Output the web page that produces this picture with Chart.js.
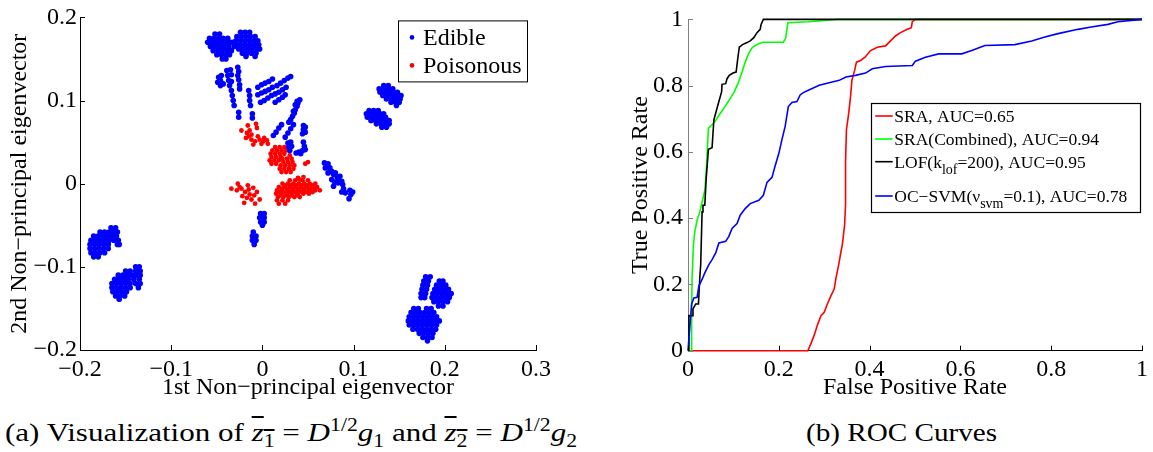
<!DOCTYPE html>
<html><head><meta charset="utf-8">
<script src="https://cdn.jsdelivr.net/npm/chart.js@4.4.1/dist/chart.umd.min.js"></script>
<style>
html,body{margin:0;padding:0;background:#fff;width:1153px;height:452px;overflow:hidden;position:relative;}
#c1{position:absolute;left:0;top:0;}
#c2{position:absolute;left:580px;top:0;}
.cap{position:absolute;left:0;top:0;font-family:"Liberation Serif",serif;font-size:26px;color:#000;white-space:nowrap;line-height:1;transform-origin:0 50%;}
.ov{text-decoration:overline;}
.cap sub,.cap sup{font-size:70%;line-height:0;}
</style></head>
<body>
<canvas id="c1" width="580" height="400"></canvas>
<canvas id="c2" width="573" height="400"></canvas>
<div id="capA" class="cap">(a) Visualization of <span class="ov"><i>z</i><sub>1</sub></span> = <i>D</i><sup>1/2</sup><i>g</i><sub>1</sub> and <span class="ov"><i>z</i><sub>2</sub></span> = <i>D</i><sup>1/2</sup><i>g</i><sub>2</sub></div>
<div id="capB" class="cap">(b) ROC Curves</div>
<script>
// ---------- Left panel data (x = 1st, y = 2nd non-principal eigenvector) ----------
// blob rows: [y, x1, x2, ...]
const edibleTopLeft = [
 [0.180,-0.052,-0.047],
 [0.175,-0.058,-0.053,-0.048,-0.043,-0.038],
 [0.170,-0.060,-0.055,-0.050,-0.045,-0.040,-0.035,-0.032],
 [0.165,-0.057,-0.052,-0.047,-0.042,-0.037,-0.031],
 [0.160,-0.054,-0.049,-0.044,-0.039,-0.034],
 [0.155,-0.050,-0.045,-0.040,-0.036],
 [0.150,-0.044,-0.040]
];
const edibleTopRight = [
 [0.182,-0.024,-0.019,-0.014],
 [0.177,-0.028,-0.023,-0.018,-0.013,-0.008],
 [0.172,-0.029,-0.024,-0.019,-0.014,-0.009,-0.005],
 [0.167,-0.029,-0.024,-0.019,-0.014,-0.009,-0.004],
 [0.162,-0.026,-0.021,-0.016,-0.011,-0.006,-0.003],
 [0.157,-0.022,-0.017,-0.012,-0.007],
 [0.153,-0.018,-0.008]
];
const edibleRightUpper = [
 [0.118,0.133,0.138],
 [0.114,0.128,0.133,0.138,0.143],
 [0.110,0.129,0.134,0.139,0.144,0.148],
 [0.106,0.132,0.137,0.142,0.147,0.152],
 [0.102,0.136,0.141,0.146,0.151],
 [0.098,0.141,0.146,0.150],
 [0.094,0.147]
];
const edibleRightLower = [
 [0.088,0.117,0.122,0.127],
 [0.084,0.114,0.119,0.124,0.129,0.133],
 [0.080,0.115,0.120,0.125,0.130,0.135],
 [0.076,0.119,0.124,0.129,0.134,0.139],
 [0.072,0.125,0.130,0.135,0.139],
 [0.068,0.131,0.136]
];
const edibleLowLeftA = [
 [-0.053,-0.166,-0.161],
 [-0.058,-0.178,-0.173,-0.168,-0.163,-0.159],
 [-0.063,-0.185,-0.180,-0.175,-0.170,-0.165,-0.160],
 [-0.068,-0.188,-0.183,-0.178,-0.173,-0.168,-0.163,-0.158],
 [-0.073,-0.189,-0.184,-0.179,-0.174,-0.169,-0.159,-0.157],
 [-0.078,-0.189,-0.184,-0.179,-0.174,-0.169],
 [-0.083,-0.188,-0.183,-0.178,-0.173],
 [-0.088,-0.185,-0.180]
];
const edibleLowLeftB = [
 [-0.100,-0.139,-0.135],
 [-0.105,-0.150,-0.145,-0.139,-0.134],
 [-0.110,-0.158,-0.153,-0.148,-0.143,-0.138,-0.134],
 [-0.115,-0.162,-0.157,-0.152,-0.147,-0.141,-0.135],
 [-0.120,-0.165,-0.160,-0.155,-0.150,-0.145,-0.139,-0.134],
 [-0.125,-0.165,-0.160,-0.155,-0.150,-0.145,-0.136],
 [-0.130,-0.164,-0.159,-0.154,-0.149],
 [-0.135,-0.161,-0.156,-0.151],
 [-0.139,-0.157]
];
const edibleLowRightUpper = [
 [-0.112,0.179,0.184],
 [-0.117,0.177,0.182,0.194,0.198],
 [-0.122,0.176,0.181,0.191,0.196,0.201],
 [-0.127,0.175,0.180,0.189,0.194,0.199,0.204],
 [-0.132,0.174,0.179,0.187,0.192,0.197,0.202,0.207],
 [-0.137,0.174,0.178,0.186,0.191,0.196,0.201,0.205],
 [-0.142,0.188,0.193,0.198,0.203],
 [-0.147,0.193,0.198]
];
const edibleLowRightLower = [
 [-0.150,0.166,0.171,0.180,0.185],
 [-0.155,0.163,0.168,0.173,0.178,0.183,0.188],
 [-0.160,0.161,0.166,0.171,0.176,0.181,0.186,0.191],
 [-0.165,0.160,0.165,0.170,0.175,0.180,0.185,0.190,0.194],
 [-0.170,0.161,0.166,0.171,0.176,0.181,0.186,0.191],
 [-0.175,0.165,0.170,0.175,0.180,0.185,0.190],
 [-0.180,0.172,0.177,0.182,0.187],
 [-0.185,0.176,0.181,0.186],
 [-0.189,0.181]
];
// single points: [x, y]
const edibleStrands = [
 [-0.045,0.130],[-0.048,0.128],[-0.046,0.124],[-0.049,0.122],[-0.043,0.120],[-0.046,0.118],
 [-0.039,0.136],[-0.035,0.137],[-0.038,0.130],[-0.034,0.131],[-0.037,0.124],[-0.034,0.123],
 [-0.036,0.118],[-0.034,0.112],[-0.033,0.106],[-0.032,0.100],[-0.031,0.094],
 [-0.027,0.140],[-0.026,0.135],[-0.027,0.130],[-0.026,0.125],[-0.025,0.119],[-0.025,0.114],
 [-0.026,0.086],[-0.026,0.080],
 [-0.015,0.112],[-0.014,0.106],[-0.014,0.100],[-0.013,0.094],[-0.011,0.084],[-0.011,0.079]
];
const edibleBars = [
 [-0.005,0.116],[-0.001,0.119],[0.003,0.121],[0.007,0.123],[0.011,0.126],
 [-0.005,0.107],[-0.001,0.109],[0.003,0.111],[0.007,0.113],[0.011,0.116],
 [-0.002,0.098],[0.002,0.100],[0.006,0.103],[0.010,0.106],
 [0.016,0.118],[0.020,0.121],[0.024,0.124],[0.028,0.127],[0.031,0.129],
 [0.014,0.108],[0.018,0.110],[0.022,0.113],[0.026,0.116],
 [0.014,0.098],[0.018,0.101],[0.022,0.104],[0.025,0.107],
 [0.041,0.101],[0.039,0.097],[0.038,0.093],[0.036,0.089],[0.035,0.085],[0.033,0.081],
 [0.031,0.077],[0.029,0.074],[0.038,0.099],[0.036,0.095],[0.034,0.087]
];
const edibleMid = [
 [0.012,0.058],[0.015,0.062],[0.018,0.067],[0.021,0.071],
 [0.025,0.056],[0.028,0.061],[0.031,0.066],[0.034,0.071],
 [0.045,0.070],[0.045,0.065],[0.044,0.060],[0.047,0.068],[0.047,0.062],
 [0.028,0.049],[0.031,0.050],[0.029,0.044],[0.032,0.045],[0.030,0.040],
 [0.045,0.050],[0.046,0.045],[0.044,0.040],[0.040,0.038],[0.037,0.037],[0.047,0.041],[0.042,0.036]
];
const edibleStripes = [
 [0.068,0.025],[0.072,0.024],[0.069,0.019],[0.074,0.019],[0.076,0.015],[0.078,0.011],
 [0.080,0.013],[0.082,0.008],[0.076,0.005],[0.079,0.002],[0.085,0.009],[0.087,0.003],
 [0.083,0.001],[0.078,-0.003],[0.088,-0.001],[0.089,-0.006],[0.087,-0.010],[0.091,-0.011],
 [0.096,-0.008],[0.099,-0.010],[0.097,-0.013],[0.095,-0.018],[0.072,0.013],[0.083,0.004]
];
const edibleBelow = [
 [-0.002,-0.036],[0.002,-0.036],[-0.003,-0.041],[0.002,-0.041],[-0.002,-0.046],[0.002,-0.046],[0.000,-0.050],
 [-0.010,-0.058],[-0.011,-0.063],[-0.007,-0.063],[-0.011,-0.068],[-0.007,-0.068],[-0.009,-0.073]
];
const poisonLobes = [
 [0.044,0.014,0.019,0.024],
 [0.040,0.011,0.016,0.021,0.026],
 [0.036,0.009,0.014,0.019,0.024],
 [0.032,0.010,0.015,0.020],
 [0.028,0.008,0.013,0.018],
 [0.024,0.010,0.015],
 [0.034,0.030],
 [0.030,0.022,0.027,0.032],
 [0.026,0.023,0.028,0.033],
 [0.022,0.020,0.025,0.030,0.035],
 [0.018,0.019,0.024,0.029,0.034],
 [0.014,0.021,0.026,0.031]
];
const poisonBand = [
 [0.004,0.030,0.036,0.044,0.050],
 [0.000,0.022,0.028,0.034,0.040,0.046,0.052,0.058],
 [-0.002,0.025,0.031,0.037,0.043,0.049,0.055],
 [-0.004,0.018,0.024,0.030,0.036,0.042,0.048,0.054,0.060],
 [-0.006,0.021,0.027,0.033,0.039,0.045,0.051,0.057],
 [-0.008,0.016,0.022,0.028,0.034,0.040,0.046,0.052,0.058,0.063],
 [-0.010,0.019,0.025,0.031,0.037,0.043,0.049,0.055],
 [-0.012,0.015,0.021,0.027,0.033,0.039,0.045,0.051],
 [-0.014,0.020,0.026,0.032,0.038],
 [-0.016,0.017,0.023,0.029,0.035,0.041],
 [-0.020,0.016,0.022,0.028],
 [-0.024,0.018,0.025]
];
const poisonScatter = [
 [-0.023,0.064],[-0.016,0.070],[-0.007,0.072],[-0.006,0.067],[-0.017,0.061],[-0.014,0.064],
 [-0.015,0.057],[-0.012,0.053],[-0.010,0.047],[-0.012,0.059],[-0.005,0.057],[-0.003,0.053],
 [0.001,0.051],[-0.001,0.048],[0.005,0.052],[0.006,0.048],[0.002,0.055],[-0.008,0.051],[-0.018,0.055],
 [-0.034,-0.006],[-0.027,0.000],[-0.028,-0.008],[-0.023,-0.006],[-0.019,-0.010],[-0.015,-0.007],
 [-0.022,-0.015],[-0.017,-0.017],[-0.014,-0.013],[-0.012,-0.019],[-0.020,-0.023],[-0.008,-0.024],
 [-0.006,-0.010],[-0.003,-0.019],[-0.010,-0.005],[-0.025,-0.004],[-0.016,-0.002],[-0.009,-0.014],
 [0.047,0.024],[0.050,0.026],[0.045,0.008],[0.041,0.005],[0.039,0.007]
];

// ---------- Right panel data (ROC curves) ----------
const sraFpr = [0,0.264,0.271,0.278,0.286,0.293,0.300,0.307,0.315,0.322,0.326,0.332,0.337,0.340,0.345,0.347,0.347,0.349,0.354,0.358,0.361,0.367,0.371,0.380,0.390,0.402,0.417,0.435,0.446,0.457,0.468,0.483,0.492,0.494,0.501,1];
const sraTpr = [0,0,0.022,0.047,0.081,0.106,0.116,0.141,0.166,0.186,0.220,0.260,0.300,0.320,0.380,0.440,0.570,0.667,0.717,0.767,0.816,0.846,0.871,0.876,0.886,0.906,0.916,0.920,0.935,0.950,0.960,0.970,0.975,0.993,1,1];
const combFpr = [0,0.007,0.008,0.009,0.012,0.015,0.020,0.026,0.031,0.037,0.040,0.045,0.053,0.061,0.069,0.079,0.090,0.101,0.110,0.119,0.126,0.134,0.142,0.154,0.166,0.210,0.215,0.220,0.265,0.329,1];
const combTpr = [0,0,0.121,0.220,0.320,0.359,0.394,0.419,0.449,0.484,0.538,0.672,0.682,0.695,0.712,0.732,0.755,0.779,0.806,0.841,0.871,0.898,0.916,0.926,0.931,0.931,0.943,0.990,0.993,1,1];
const lofFpr = [0,0.002,0.002,0.011,0.011,0.017,0.023,0.026,0.028,0.031,0.033,0.037,0.040,0.045,0.053,0.057,0.062,0.068,0.074,0.075,0.083,0.086,0.091,0.099,0.106,0.110,0.113,0.120,0.130,0.137,0.145,0.152,0.159,0.161,0.166,1];
const lofTpr = [0,0,0.106,0.106,0.126,0.141,0.141,0.220,0.260,0.419,0.439,0.439,0.518,0.608,0.613,0.697,0.722,0.752,0.781,0.804,0.806,0.821,0.831,0.838,0.841,0.886,0.916,0.924,0.930,0.935,0.945,0.960,0.970,0.985,1,1];
const svmFpr = [0,0.004,0.008,0.013,0.020,0.024,0.031,0.037,0.046,0.053,0.061,0.068,0.083,0.090,0.097,0.108,0.115,0.126,0.137,0.156,0.166,0.174,0.185,0.192,0.200,0.207,0.214,0.221,0.229,0.240,0.247,0.254,0.265,0.289,0.311,0.333,0.348,0.369,0.391,0.406,0.435,0.494,0.501,0.523,0.552,0.603,0.625,0.654,0.720,0.757,0.786,0.815,0.859,0.888,0.925,0.947,1];
const svmTpr = [0,0.072,0.141,0.159,0.161,0.196,0.215,0.235,0.260,0.275,0.295,0.325,0.330,0.345,0.369,0.384,0.409,0.429,0.444,0.454,0.469,0.508,0.523,0.558,0.595,0.638,0.677,0.737,0.749,0.752,0.772,0.779,0.786,0.801,0.809,0.816,0.826,0.831,0.838,0.851,0.858,0.861,0.874,0.886,0.896,0.896,0.906,0.921,0.924,0.935,0.947,0.957,0.970,0.977,0.985,0.993,1];

const leftXTicks = [-0.2,-0.1,0,0.1,0.2,0.3];
const leftYTicks = [-0.2,-0.1,0,0.1,0.2];
const rocTicks = [0,0.2,0.4,0.6,0.8,1];
const seriesLabels = ['SRA, AUC=0.65','SRA(Combined), AUC=0.94','LOF(k|lof|=200), AUC=0.95','OC\u2212SVM(\u03bd|svm|=0.1), AUC=0.78'];

// ---------- helpers ----------
function rowsToPts(rows){const o=[];rows.forEach(r=>{for(let i=1;i<r.length;i++)o.push({x:r[i],y:r[0]});});return o;}
function pairsToPts(p){return p.map(([x,y])=>({x:x,y:y}));}
function zipPts(xs,ys){return xs.map((x,i)=>({x:x,y:ys[i]}));}
function fmt(v){const r=Math.round(v*10)/10;if(Math.abs(r)<1e-9)return '0';return (r<0?'\u2212':'')+String(Math.abs(r));}
const FAM='"Liberation Serif", "Times New Roman", serif';

const edible = [].concat(
  rowsToPts(edibleTopLeft),rowsToPts(edibleTopRight),rowsToPts(edibleRightUpper),rowsToPts(edibleRightLower),
  rowsToPts(edibleLowLeftA),rowsToPts(edibleLowLeftB),rowsToPts(edibleLowRightUpper),rowsToPts(edibleLowRightLower),
  pairsToPts(edibleStrands),pairsToPts(edibleBars),pairsToPts(edibleMid),pairsToPts(edibleStripes),pairsToPts(edibleBelow));
const poison = [].concat(rowsToPts(poisonLobes),rowsToPts(poisonBand),pairsToPts(poisonScatter));

const inTicks = {
  id:'inTicks',
  afterDatasetsDraw(chart,args,opts){
    const {ctx,chartArea:a,scales:{x,y}}=chart;
    ctx.save();ctx.lineWidth=1;
    ctx.strokeStyle=opts.xColor||'#000';ctx.beginPath();
    x.ticks.forEach(t=>{const px=Math.round(x.getPixelForValue(t.value))+0.5;ctx.moveTo(px,a.bottom);ctx.lineTo(px,a.bottom-5);});
    ctx.stroke();
    ctx.strokeStyle=opts.yColor||'#000';ctx.beginPath();
    y.ticks.forEach(t=>{const py=Math.round(y.getPixelForValue(t.value))+0.5;ctx.moveTo(a.left,py);ctx.lineTo(a.left+5,py);});
    ctx.stroke();ctx.restore();
  }
};
const legendA = {
  id:'legendA',
  afterDraw(chart){
    const {ctx,chartArea:a}=chart;
    const L=a.right-138, T=a.top+3, W=129, H=61;
    ctx.save();
    ctx.fillStyle='#fff';ctx.fillRect(L,T,W,H);
    ctx.strokeStyle='#000';ctx.lineWidth=1;ctx.strokeRect(L+0.5,T+0.5,W,H);
    const items=[['Edible','#0000ff',17,25],['Poisonous','#ff0000',45,53]];
    ctx.font='24px '+FAM;ctx.textBaseline='alphabetic';
    items.forEach(([t,c,dy,by])=>{
      ctx.fillStyle=c;ctx.beginPath();ctx.arc(L+14,T+dy,2.3,0,Math.PI*2);ctx.fill();
      ctx.fillStyle='#000';ctx.fillText(t,L+25,T+by);
    });
    ctx.restore();
  }
};
const legendB = {
  id:'legendB',
  afterDraw(chart){
    const {ctx,chartArea:a}=chart;
    const R=a.right-2.5, L=290.7, T=103.3, B=212.7;
    ctx.save();
    ctx.fillStyle='#fff';ctx.fillRect(L,T,R-L,B-T);
    ctx.strokeStyle='#000';ctx.lineWidth=1.2;ctx.strokeRect(Math.round(L)+0.5,Math.round(T)+0.5,Math.round(R-L),Math.round(B-T));
    const cols=['#ff0000','#00ff00','#000000','#0000ff'];
    const lineY=[116,139,161.7,196], base=[122,145,167.7,201.7];
    ctx.textBaseline='alphabetic';
    seriesLabels.forEach((lab,i)=>{
      ctx.strokeStyle=cols[i];ctx.lineWidth=1.6;ctx.beginPath();ctx.moveTo(L+4.5,lineY[i]);ctx.lineTo(L+22,lineY[i]);ctx.stroke();
      let x=L+23.6;ctx.fillStyle='#000';
      lab.split('|').forEach((part,j)=>{
        const sub=j%2===1;
        ctx.font=(sub?'14px ':'17.5px ')+FAM;
        ctx.fillText(part,x,base[i]+(sub?6.5:0));
        x+=ctx.measureText(part).width;
      });
    });
    ctx.restore();
  }
};

function axisCommon(min,max,step,title,titlePad,borderColor,tickPad){
  return {
    type:'linear',min:min,max:max,
    ticks:{stepSize:step,callback:(v)=>fmt(v),color:'#000',font:{family:FAM,size:24},padding:tickPad,maxRotation:0,autoSkip:false},
    grid:{display:false,drawTicks:false},
    border:{display:true,color:borderColor,width:1},
    title:{display:true,text:title,color:'#000',font:{family:FAM,size:24,lineHeight:1},padding:titlePad}
  };
}

// ---------- Left chart ----------
const lx = axisCommon(-0.2,0.3,0.1,'1st Non\u2212principal eigenvector',{top:0,bottom:0},'#000',5);
lx.afterFit = s=>{s.height=50;};
lx.afterBuildTicks = s=>{s.ticks=leftXTicks.map(v=>({value:v}));};
const ly = axisCommon(-0.2,0.2,0.1,'2nd Non\u2212principal eigenvector',{top:8,bottom:0},'#000',3);
ly.afterFit = s=>{s.width=80;};
ly.afterBuildTicks = s=>{s.ticks=leftYTicks.map(v=>({value:v}));};

new Chart(document.getElementById('c1'),{
  type:'scatter',
  data:{datasets:[
    {label:'Edible',data:edible,backgroundColor:'#0000ff',borderColor:'#0000ff',pointRadius:2.8,borderWidth:0,pointHoverRadius:2.8},
    {label:'Poisonous',data:poison,backgroundColor:'#ff0000',borderColor:'#ff0000',pointRadius:2.4,borderWidth:0,pointHoverRadius:2.4}
  ]},
  options:{
    responsive:false,animation:false,events:[],
    layout:{padding:{left:0,right:44,top:15,bottom:0}},
    plugins:{legend:{display:false},tooltip:{enabled:false},inTicks:{xColor:'#000',yColor:'#000'}},
    scales:{x:lx,y:ly}
  },
  plugins:[inTicks,legendA]
});

// ---------- Right chart ----------
const rx = axisCommon(0,1,0.2,'False Positive Rate',{top:0,bottom:0},'#000',5);
rx.afterFit = s=>{s.height=49.3;};
rx.afterBuildTicks = s=>{s.ticks=rocTicks.map(v=>({value:v}));};
const ry = axisCommon(0,1,0.2,'True Positive Rate',{top:48.5,bottom:0},'#808080',5);
ry.afterFit = s=>{s.width=108;};
ry.afterBuildTicks = s=>{s.ticks=rocTicks.map(v=>({value:v}));};

const lineDs=(label,xs,ys,color,order)=>({label:label,data:zipPts(xs,ys),showLine:true,borderColor:color,backgroundColor:color,borderWidth:1.6,pointRadius:0,pointHoverRadius:0,fill:false,tension:0,order:order,clip:4});
new Chart(document.getElementById('c2'),{
  type:'scatter',
  data:{datasets:[
    lineDs(seriesLabels[0],sraFpr,sraTpr,'#ff0000',3),
    lineDs(seriesLabels[1],combFpr,combTpr,'#00ff00',2),
    lineDs(seriesLabels[2],lofFpr,lofTpr,'#000000',1),
    lineDs(seriesLabels[3],svmFpr,svmTpr,'#0000ff',0)
  ]},
  options:{
    responsive:false,animation:false,events:[],
    layout:{padding:{left:0,right:8.5,top:15,bottom:0}},
    plugins:{legend:{display:false},tooltip:{enabled:false},inTicks:{xColor:'#000',yColor:'#808080'}},
    scales:{x:rx,y:ry}
  },
  plugins:[inTicks,legendB]
});

// ---------- captions (stretched horizontally to the reference's wider serif) ----------
function placeCap(id,cx,cy,w){
  const el=document.getElementById(id);
  const r=el.getBoundingClientRect();
  const s=w/r.width;
  el.style.left=(cx-w/2)+'px';
  el.style.top=(cy-r.height/2)+'px';
  el.style.transform='scaleX('+s+')';
}
placeCap('capA',291,433,572);
placeCap('capB',901,433,191);
</script>
</body></html>
